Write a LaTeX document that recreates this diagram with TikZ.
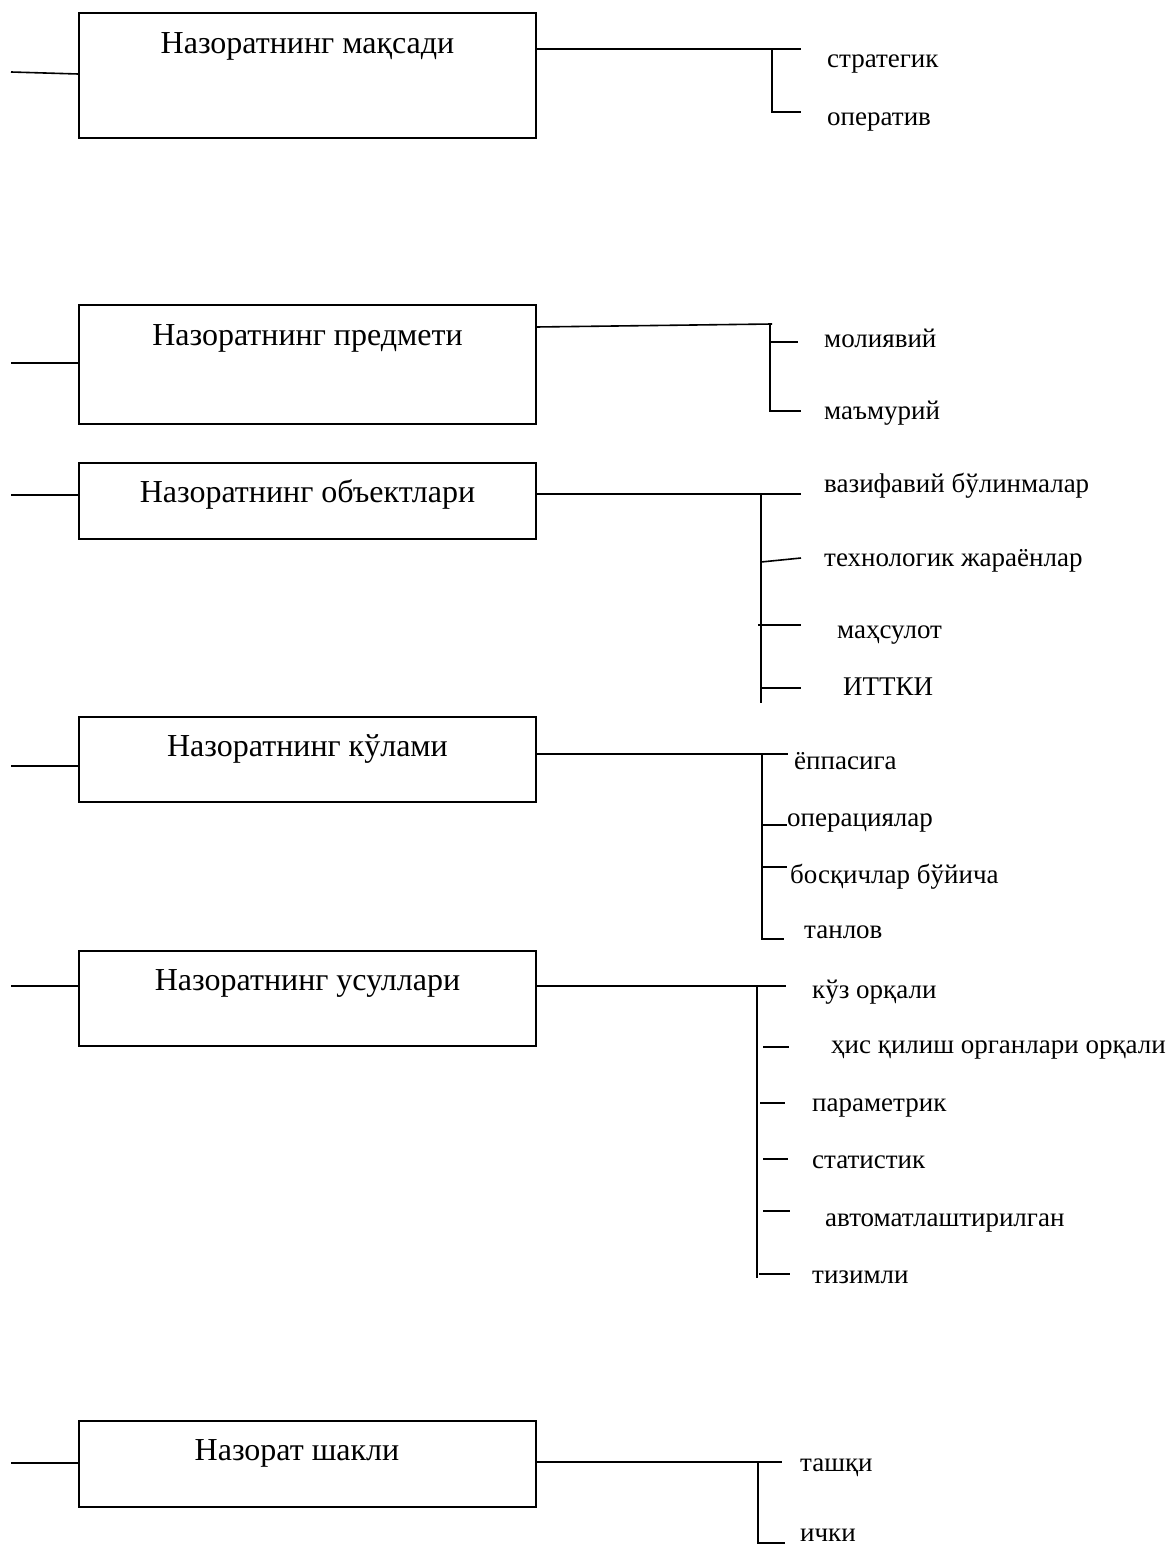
\documentclass[tikz,border=0pt]{standalone}
\usepackage{fontspec}
\setmainfont{Liberation Serif}
\begin{document}
\begin{tikzpicture}[x=1pt,y=-1pt,
  ln/.style={line width=1.6pt},
  box/.style={draw,line width=1.8pt,minimum width=457pt,inner sep=0pt},
  btext/.style={font=\fontsize{32}{38}\selectfont,anchor=base,inner sep=0pt},
  leaf/.style={font=\fontsize{27}{32}\selectfont,anchor=base west,inner sep=0pt}]
\useasboundingbox (0,0) rectangle (1166,1546);

% ---------- boxes ----------
\node[box,minimum height=125pt] (b1) at (307.5,75.5) {};
\node[box,minimum height=119pt] (b2) at (307.5,364.5) {};
\node[box,minimum height=76pt]  (b3) at (307.5,501) {};
\node[box,minimum height=85pt]  (b4) at (307.5,759.5) {};
\node[box,minimum height=95pt]  (b5) at (307.5,998.5) {};
\node[box,minimum height=86pt]  (b6) at (307.5,1464) {};

\node[btext] (t1) at (307.5,54) {Назоратнинг мақсади};
\node[btext] (t2) at (307.5,345) {Назоратнинг предмети};
\node[btext] (t3) at (307.5,502) {Назоратнинг объектлари};
\node[btext] (t4) at (307.5,756) {Назоратнинг кўлами};
\node[btext] (t5) at (307.5,990) {Назоратнинг усуллари};
\node[btext] (t6) at (297,1460) {Назорат шакли};

% ---------- left stubs ----------
\coordinate (l1) at (11,72);
\coordinate (l2) at (11,363);
\coordinate (l3) at (11,495);
\coordinate (l4) at (11,766);
\coordinate (l5) at (11,986);
\coordinate (l6) at (11,1463);
\draw[ln] (l1) -- ([yshift=-2pt]l1 -| b1.west);
\draw[ln] (l2) -- (l2 -| b2.west);
\draw[ln] (l3) -- (l3 -| b3.west);
\draw[ln] (l4) -- (l4 -| b4.west);
\draw[ln] (l5) -- (l5 -| b5.west);
\draw[ln] (l6) -- (l6 -| b6.west);

% ---------- group 1 ----------
\node[leaf] (c11) at (827,68) {стратегик};
\node[leaf] (c12) at (827,126) {оператив};
\coordinate (j1) at (772,49);
\coordinate (e11) at (801,49);
\coordinate (k12) at (772,112);
\coordinate (e12) at (801,112);
\draw[ln] (j1 -| b1.east) -- (e11);
\draw[ln] (j1) -- (k12) -- (e12);

% ---------- group 2 ----------
\node[leaf] (c21) at (824,347) {молиявий};
\node[leaf] (c22) at (824,419) {маъмурий};
\coordinate (r2) at (536,327);
\coordinate (j2) at (772,324);
\coordinate (v2) at (770,324);
\coordinate (k21) at (770,342);
\coordinate (e21) at (798,342);
\coordinate (k22) at (770,411);
\coordinate (e22) at (801,411);
\draw[ln] (r2) -- (j2);
\draw[ln] (v2) -- (k22) -- (e22);
\draw[ln] (k21) -- (e21);

% ---------- group 3 ----------
\node[leaf] (c31) at (824,492) {вазифавий бўлинмалар};
\node[leaf] (c32) at (824,566) {технологик жараёнлар};
\node[leaf] (c33) at (837,638) {маҳсулот};
\node[leaf] (c34) at (843,695) {ИТТКИ};
\coordinate (j3) at (761,494);
\coordinate (e31) at (801,494);
\coordinate (v3) at (761,703);
\coordinate (k32) at (761,562);
\coordinate (e32) at (801,558);
\coordinate (k33) at (758,625);
\coordinate (e33) at (801,625);
\coordinate (k34) at (761,688);
\coordinate (e34) at (801,688);
\draw[ln] (j3 -| b3.east) -- (e31);
\draw[ln] (j3) -- (v3);
\draw[ln] (k32) -- (e32);
\draw[ln] (k33) -- (e33);
\draw[ln] (k34) -- (e34);

% ---------- group 4 ----------
\node[leaf] (c41) at (794,769) {ёппасига};
\node[leaf] (c42) at (787,826) {операциялар};
\node[leaf] (c43) at (790,883) {босқичлар бўйича};
\node[leaf] (c44) at (804,938) {танлов};
\coordinate (j4) at (762,754);
\coordinate (e41) at (788,754);
\coordinate (k44) at (762,939);
\coordinate (e44) at (784,939);
\coordinate (k42) at (762,825);
\coordinate (e42) at (787,825);
\coordinate (k43) at (762,867);
\coordinate (e43) at (787,867);
\draw[ln] (j4 -| b4.east) -- (e41);
\draw[ln] (j4) -- (k44) -- (e44);
\draw[ln] (k42) -- (e42);
\draw[ln] (k43) -- (e43);

% ---------- group 5 ----------
\node[leaf] (c51) at (812,998) {кўз орқали};
\node[leaf] (c52) at (831,1053) {ҳис қилиш органлари орқали};
\node[leaf] (c53) at (812,1111) {параметрик};
\node[leaf] (c54) at (812,1168) {статистик};
\node[leaf] (c55) at (825,1226) {автоматлаштирилган};
\node[leaf] (c56) at (812,1283) {тизимли};
\coordinate (j5) at (757,986);
\coordinate (e51) at (786,986);
\coordinate (v5) at (757,1278);
\coordinate (k52) at (763,1047);
\coordinate (e52) at (789,1047);
\coordinate (k53) at (760,1103);
\coordinate (e53) at (785,1103);
\coordinate (k54) at (763,1159);
\coordinate (e54) at (788,1159);
\coordinate (k55) at (763,1211);
\coordinate (e55) at (790,1211);
\coordinate (k56) at (759,1274);
\coordinate (e56) at (790,1274);
\draw[ln] (j5 -| b5.east) -- (e51);
\draw[ln] (j5) -- (v5);
\draw[ln] (k52) -- (e52);
\draw[ln] (k53) -- (e53);
\draw[ln] (k54) -- (e54);
\draw[ln] (k55) -- (e55);
\draw[ln] (k56) -- (e56);

% ---------- group 6 ----------
\node[leaf] (c61) at (800,1471) {ташқи};
\node[leaf] (c62) at (800,1541) {ички};
\coordinate (j6) at (758,1462);
\coordinate (e61) at (782,1462);
\coordinate (k62) at (758,1543);
\coordinate (e62) at (785,1543);
\draw[ln] (j6 -| b6.east) -- (e61);
\draw[ln] (j6) -- (k62) -- (e62);
\end{tikzpicture}
\end{document}
